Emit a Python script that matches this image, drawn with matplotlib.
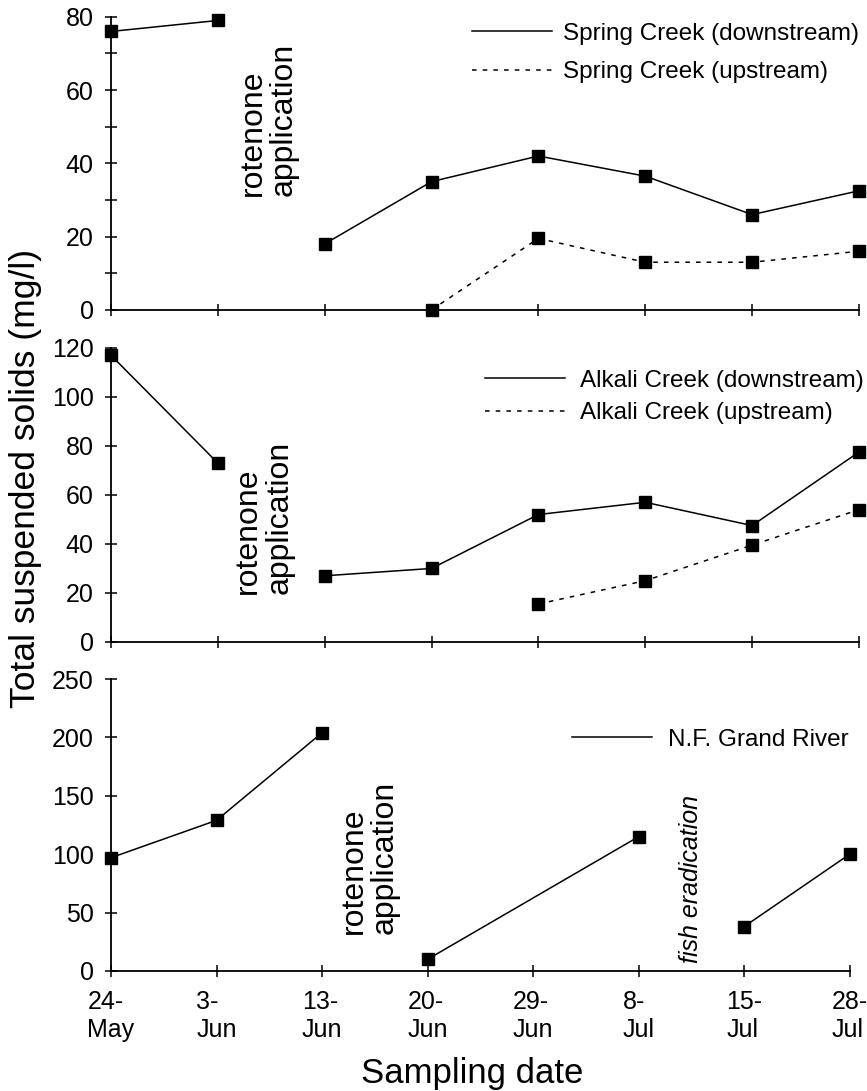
"""Total suspended solids before/after rotenone application, three streams."""

import matplotlib

matplotlib.use("Agg")
import matplotlib.pyplot as plt
import numpy as np
from matplotlib.lines import Line2D
from matplotlib.ticker import MultipleLocator

plt.rcParams["font.family"] = ["Liberation Sans", "DejaVu Sans"]

DATES = ["24-\nMay", "3-\nJun", "13-\nJun", "20-\nJun", "29-\nJun", "8-\nJul", "15-\nJul", "28-\nJul"]
NAN = np.nan

# Spring Creek (mg/l), NaN = not sampled
SPRING_DOWN = [76, 79, 18, 35, 42, 36.5, 26, 32.5]
SPRING_UP = [NAN, NAN, NAN, 0, 19.5, 13, 13, 16]
# Alkali Creek
ALKALI_DOWN = [117, 73, 27, 30, 52, 57, 47.5, 77.5]
ALKALI_UP = [NAN, NAN, NAN, NAN, 15.5, 25, 39.5, 54]
# North Fork Grand River
GRAND = [97, 129, 204, 10, NAN, 115, 38, 100]

# line is broken after these date indices (treatment periods)
SPRING_BREAKS = [1]
ALKALI_BREAKS = [1]
GRAND_BREAKS = [2, 5]

DASH = (0, (3, 4))
TICK_FS = 18


def _segments(vals, breaks):
    xs, ys = [], []
    for i, v in enumerate(vals):
        if np.isnan(v):
            continue
        xs.append(i)
        ys.append(v)
        if i in breaks:
            xs.append(np.nan)
            ys.append(np.nan)
    return xs, ys


def _series(ax, vals, breaks, ls):
    xs, ys = _segments(vals, breaks)
    ax.plot(xs, ys, color="black", lw=1.1, ls=ls)
    x = np.arange(len(vals))
    ax.plot(x, vals, ls="none", marker="s", ms=9, color="black", clip_on=False, zorder=5)


def _style(ax, ymax, major, minor=None, labels=False):
    ax.set_xlim(0, len(DATES) - 1)
    ax.set_ylim(0, ymax)
    ax.set_xticks(np.arange(len(DATES)))
    ax.set_xticklabels(DATES if labels else [], fontsize=TICK_FS, multialignment="left")
    ax.yaxis.set_major_locator(MultipleLocator(major))
    if minor:
        ax.yaxis.set_minor_locator(MultipleLocator(minor))
        ax.tick_params(axis="y", which="minor", direction="inout", length=9, width=1.1)
    ax.tick_params(axis="both", which="major", direction="inout", length=9, width=1.1,
                   labelsize=TICK_FS, pad=8)
    ax.tick_params(axis="x", pad=9)
    for spine in ("top", "right"):
        ax.spines[spine].set_visible(False)
    for spine in ("left", "bottom"):
        ax.spines[spine].set_linewidth(1.3)


def _legend(ax, labels, styles, anchor, spacing, handlepad):
    handles = [Line2D([], [], color="black", lw=1.1, ls=s) for s in styles]
    ax.legend(handles, labels, loc="upper right", bbox_to_anchor=anchor, frameon=False,
              fontsize=17.5, handlelength=3.3, handletextpad=handlepad,
              labelspacing=spacing, borderpad=0, borderaxespad=0)


def _rotenone(ax, x, y):
    ax.text(x, y, "rotenone\napplication", rotation=90, fontsize=23, ha="center",
            va="center", multialignment="left", linespacing=1.05)


fig = plt.figure(figsize=(8.67, 10.91), dpi=100)
ax1 = fig.add_axes([0.128, 0.716, 0.8627, 0.2686])
ax2 = fig.add_axes([0.128, 0.4116, 0.8627, 0.2695])
ax3 = fig.add_axes([0.128, 0.110, 0.852, 0.2676])

_series(ax1, SPRING_DOWN, SPRING_BREAKS, "-")
_series(ax1, SPRING_UP, SPRING_BREAKS, DASH)
_style(ax1, 80, 20, 10)
_legend(ax1, ["Spring Creek (downstream)", "Spring Creek (upstream)"], ["-", DASH],
        (1.0, 0.98), 0.68, 0.45)
_rotenone(ax1, 1.47, 52)

_series(ax2, ALKALI_DOWN, ALKALI_BREAKS, "-")
_series(ax2, ALKALI_UP, ALKALI_BREAKS, DASH)
_style(ax2, 120, 20)
_legend(ax2, ["Alkali Creek (downstream)", "Alkali Creek (upstream)"], ["-", DASH],
        (1.006, 0.925), 0.42, 0.6)
_rotenone(ax2, 1.43, 51)

_series(ax3, GRAND, GRAND_BREAKS, "-")
_style(ax3, 250, 50, labels=True)
_legend(ax3, ["N.F. Grand River"], ["-"], (0.998, 0.83), 0.3, 0.65)
_rotenone(ax3, 2.45, 97)
ax3.text(5.5, 79, "fish eradication", rotation=90, fontsize=18, style="italic",
         ha="center", va="center")

fig.text(0.029, 1 - 478 / 1091, "Total suspended solids (mg/l)", rotation=90,
         fontsize=25.5, ha="center", va="center")
fig.text(0.545, 1 - 1073 / 1091, "Sampling date", fontsize=25, ha="center", va="center")

fig.savefig("out.png", dpi=100)
